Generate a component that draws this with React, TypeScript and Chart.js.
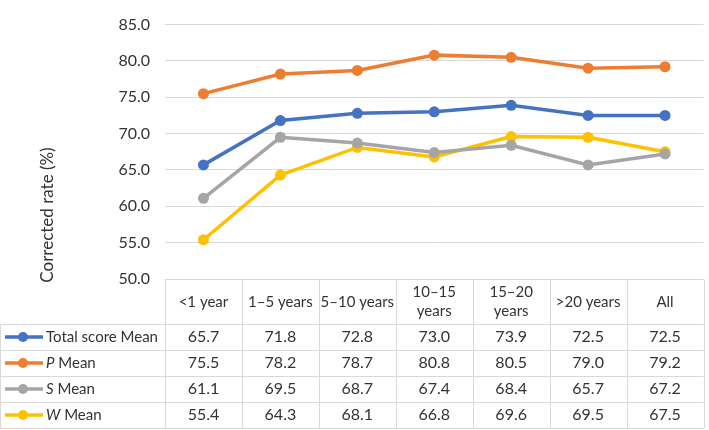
import React, { useEffect, useRef } from "react";
import { Chart, registerables } from "chart.js";

Chart.register(...registerables);

const categories: (string | string[])[] = [
  "<1 year",
  "1–5 years",
  "5–10 years",
  ["10–15", "years"],
  ["15–20", "years"],
  ">20 years",
  "All",
];

const totalMean = [65.7, 71.8, 72.8, 73.0, 73.9, 72.5, 72.5];
const pMean = [75.5, 78.2, 78.7, 80.8, 80.5, 79.0, 79.2];
const sMean = [61.1, 69.5, 68.7, 67.4, 68.4, 65.7, 67.2];
const wMean = [55.4, 64.3, 68.1, 66.8, 69.6, 69.5, 67.5];

const seriesItalic = ["", "P", "S", "W"];
const seriesRest = ["Total score Mean", " Mean", " Mean", " Mean"];
const seriesColors = ["#4472C4", "#ED7D31", "#A5A5A5", "#FFC000"];
const seriesData = [totalMean, pMean, sMean, wMean];

const yTicks = [50, 55, 60, 65, 70, 75, 80, 85];
const yTitle = "Corrected rate (%)";

const FONT = "Lato, 'Open Sans', sans-serif";
const TEXT = "#333333";
const LINE = "#d9d9d9";

const tablePlugin = {
  id: "dataTable",
  afterDraw(chart: any) {
    const ctx = chart.ctx as CanvasRenderingContext2D;
    const area = chart.chartArea;
    const xs = chart.scales.x;
    const H = chart.height;
    const half = (area.right - area.left) / (categories.length * 2);
    const top = Math.round(area.bottom) + 0.5;
    const headerH = 44.5;
    const rowH = 26;
    const headBottom = top + headerH;
    const bottom = headBottom + rowH * seriesData.length;
    const leftCol = area.left;
    const right = area.right;

    ctx.save();
    // axis title
    ctx.fillStyle = TEXT;
    ctx.font = `17px ${FONT}`;
    ctx.textAlign = "center";
    ctx.textBaseline = "middle";
    ctx.save();
    ctx.translate(48, H / 2);
    ctx.rotate(-Math.PI / 2);
    ctx.fillText(yTitle, 0, 0);
    ctx.restore();

    // grid lines of table
    ctx.strokeStyle = LINE;
    ctx.lineWidth = 1;
    ctx.beginPath();
    ctx.moveTo(leftCol, top);
    ctx.lineTo(right, top);
    for (let r = 0; r <= seriesData.length; r++) {
      const y = Math.round(headBottom + r * rowH) + 0.5;
      ctx.moveTo(0, y);
      ctx.lineTo(right, y);
    }
    for (let i = 0; i <= categories.length; i++) {
      const x = Math.round(leftCol + i * 2 * half) + 0.5;
      ctx.moveTo(x, top);
      ctx.lineTo(x, bottom);
    }
    ctx.moveTo(0.5, headBottom);
    ctx.lineTo(0.5, bottom);
    ctx.stroke();

    // header
    ctx.fillStyle = TEXT;
    ctx.font = `15px ${FONT}`;
    ctx.textAlign = "center";
    ctx.textBaseline = "middle";
    const hc = top + headerH / 2;
    categories.forEach((c, i) => {
      const x = xs.getPixelForValue(i);
      const lines = Array.isArray(c) ? c : [c];
      const lh = 19;
      lines.forEach((ln, k) => {
        const y = hc + (k - (lines.length - 1) / 2) * lh;
        ctx.fillText(ln, x, y);
      });
    });

    // rows
    seriesData.forEach((data, r) => {
      const yc = headBottom + r * rowH + rowH / 2;
      // legend marker
      ctx.strokeStyle = seriesColors[r];
      ctx.lineWidth = 3.5;
      ctx.beginPath();
      ctx.moveTo(5, yc);
      ctx.lineTo(43, yc);
      ctx.stroke();
      ctx.fillStyle = seriesColors[r];
      ctx.beginPath();
      ctx.arc(23, yc, 5, 0, Math.PI * 2);
      ctx.fill();
      // legend text
      ctx.fillStyle = TEXT;
      ctx.textAlign = "left";
      let tx = 46;
      if (seriesItalic[r]) {
        ctx.font = `italic 15px ${FONT}`;
        ctx.fillText(seriesItalic[r], tx, yc);
        tx += ctx.measureText(seriesItalic[r]).width;
      }
      ctx.font = `15px ${FONT}`;
      ctx.fillText(seriesRest[r], tx, yc);
      // values
      ctx.font = `16px ${FONT}`;
      ctx.textAlign = "center";
      data.forEach((v, i) => {
        ctx.fillText(v.toFixed(1), xs.getPixelForValue(i), yc);
      });
    });
    ctx.restore();
  },
};

export default function App() {
  const ref = useRef<HTMLCanvasElement>(null);
  useEffect(() => {
    if (!ref.current) return;
    const chart = new Chart(ref.current, {
      type: "line",
      data: {
        labels: categories as any,
        datasets: seriesData.map((d, i) => ({
          label: seriesItalic[i] + seriesRest[i],
          data: d,
          borderColor: seriesColors[i],
          backgroundColor: seriesColors[i],
          borderWidth: 3.5,
          pointRadius: 5.5,
          pointHoverRadius: 5.5,
          pointBorderWidth: 0,
          tension: 0,
        })),
      },
      options: {
        animation: false,
        responsive: false,
        devicePixelRatio: 1,
        layout: { padding: { left: 0, top: 10, right: 2, bottom: 151 } },
        plugins: { legend: { display: false }, tooltip: { enabled: false } },
        scales: {
          x: { display: false, offset: true },
          y: {
            min: yTicks[0],
            max: yTicks[yTicks.length - 1],
            afterBuildTicks: (s: any) => {
              s.ticks = yTicks.map((v) => ({ value: v }));
            },
            afterFit: (s: any) => {
              s.width = 165;
            },
            ticks: {
              callback: (v: any) => Number(v).toFixed(1),
              font: { family: FONT, size: 16 },
              color: TEXT,
              padding: 15,
            },
            grid: { color: LINE, lineWidth: 1, drawTicks: false },
            border: { display: false },
          },
        },
      },
      plugins: [tablePlugin],
    });
    return () => chart.destroy();
  }, []);
  return (
    <div style={{ position: "absolute", left: 0, top: 0, width: 709, height: 430, background: "#fff" }}>
      <canvas ref={ref} width={709} height={430} style={{ width: 709, height: 430 }} />
    </div>
  );
}
